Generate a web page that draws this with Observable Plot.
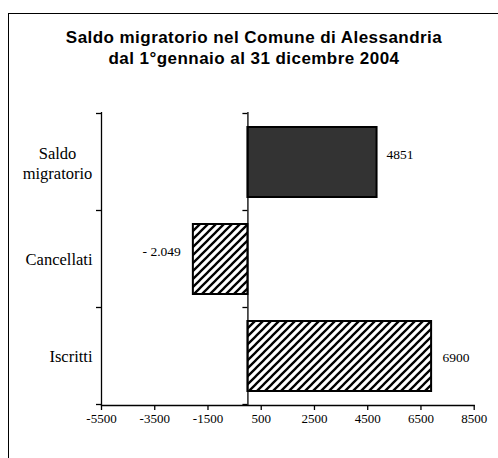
<!DOCTYPE html>
<html>
<head>
<meta charset="utf-8">
<script src="https://cdn.jsdelivr.net/npm/d3@7"></script>
<script src="https://cdn.jsdelivr.net/npm/@observablehq/plot@0.6"></script>
<style>
  html, body { margin: 0; padding: 0; background: #fff; width: 498px; height: 458px; overflow: hidden; }
  #wrap { position: relative; width: 498px; height: 458px; }
  #chart { position: absolute; left: 0; top: 0; }
  #border { position: absolute; left: 8px; top: 13px; width: 500px; height: 460px;
            border-left: 1.5px solid #000; border-top: 1.5px solid #000; pointer-events: none; }
  #title { position: absolute; left: 8px; top: 27px; width: 492px; text-align: center;
           font: bold 17px "Liberation Sans", Arial, sans-serif; line-height: 21px; color: #000;
           letter-spacing: 0.45px; }
</style>
</head>
<body>
<div id="wrap">
  <div id="chart"></div>
  <div id="border"></div>
  <div id="title">Saldo migratorio nel Comune di Alessandria<br>dal 1°gennaio al 31 dicembre 2004</div>
</div>
<script>
const categories = ["Saldo migratorio", "Cancellati", "Iscritti"];
const categoryLabels = ["Saldo\nmigratorio", "Cancellati", "Iscritti"];
const values = [4851, -2049, 6900];
const valueLabels = ["4851", "- 2.049", "6900"];
const xTicks = [-5500, -3500, -1500, 500, 2500, 4500, 6500, 8500];
const xDomain = [-5500, 8500];

const data = categories.map((c, i) => ({category: c, label: categoryLabels[i], value: values[i], text: valueLabels[i]}));
const saldo = data.filter(d => d.category === "Saldo migratorio");
const others = data.filter(d => d.category !== "Saldo migratorio");

const chart = Plot.plot({
  width: 498,
  height: 458,
  marginTop: 112,
  marginBottom: 53,
  marginLeft: 101,
  marginRight: 24.3,
  style: {fontFamily: "'Liberation Serif', 'Times New Roman', serif", background: "transparent", color: "#000"},
  x: {domain: xDomain, axis: null, label: null},
  y: {domain: categories, paddingInner: 0.28, paddingOuter: 0.14, axis: null, label: null},
  marks: [
    Plot.barX(saldo, {x: "value", y: "category", fill: "#333333", stroke: "#000", strokeWidth: 2}),
    Plot.barX(others, {x: "value", y: "category", fill: "url(#hatch)", stroke: "#000", strokeWidth: 2}),
    Plot.ruleX([xDomain[0]], {stroke: "#000", strokeWidth: 1.3}),
    Plot.ruleX([0], {stroke: "#000", strokeWidth: 1.3}),
    Plot.frame({anchor: "bottom", stroke: "#000", strokeWidth: 1.3}),
    Plot.axisX(xTicks, {tickSize: 5, tickPadding: 3, fontSize: 13, stroke: "#000", strokeWidth: 1.3,
      label: null, tickFormat: d => String(d)}),
    // category labels
    Plot.text(data.filter(d => d.category === "Saldo migratorio"), {y: "category", text: "label", frameAnchor: "left",
      textAnchor: "middle", dx: -44, fontSize: 16.5, lineHeight: 1.2, fill: "#000"}),
    Plot.text(data.filter(d => d.category !== "Saldo migratorio"), {y: "category", text: "label", frameAnchor: "left",
      textAnchor: "end", dx: -9, fontSize: 16.5, fill: "#000"}),
    // value labels
    Plot.text(data.filter(d => d.value >= 0 && d.category === "Saldo migratorio"), {x: "value", y: "category", text: "text",
      textAnchor: "start", dx: 9.5, dy: -8, fontSize: 13.5, fill: "#000"}),
    Plot.text(data.filter(d => d.value >= 0 && d.category !== "Saldo migratorio"), {x: "value", y: "category", text: "text",
      textAnchor: "start", dx: 11, dy: 1.5, fontSize: 13.5, fill: "#000"}),
    Plot.text(data.filter(d => d.value < 0), {x: "value", y: "category", text: "text",
      textAnchor: "end", dx: -12.5, dy: -8, fontSize: 13.5, fill: "#000"})
  ]
});

const svg = d3.select(chart);
svg.insert("defs", ":first-child").html(
  '<pattern id="hatch" patternUnits="userSpaceOnUse" width="8" height="8">' +
  '<rect width="8" height="8" fill="#fff"/>' +
  '<path d="M-2,2 L2,-2 M0,8 L8,0 M6,10 L10,6" stroke="#000" stroke-width="2.3"/>' +
  '</pattern>'
);

// tick marks at category boundaries on both vertical lines, using Plot's scales
const ys = chart.scale("y");
const xs = chart.scale("x");
const step = ys.step;
const bw = ys.bandwidth;
const gap = (step - bw) / 2;
const bounds = categories.map(c => ys.apply(c) - gap);
bounds.push(ys.apply(categories[categories.length - 1]) + bw + gap);
const g = svg.append("g").attr("stroke", "#000").attr("stroke-width", 1.3);
[xs.apply(xDomain[0]), xs.apply(0)].forEach(x0 => {
  bounds.forEach(y0 => {
    g.append("line").attr("x1", x0 - 5).attr("x2", x0).attr("y1", y0).attr("y2", y0);
  });
});

document.getElementById("chart").appendChild(chart);
</script>
</body>
</html>
